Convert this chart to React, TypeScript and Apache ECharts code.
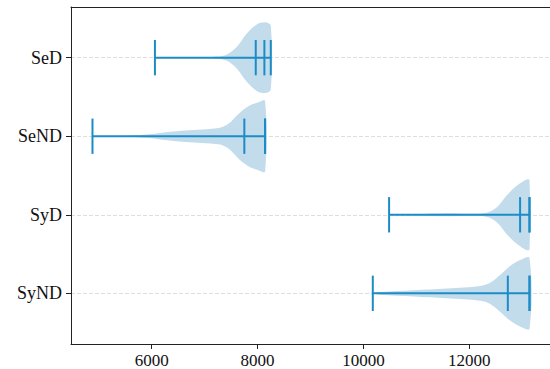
import React, { useEffect, useRef } from "react";
import * as echarts from "echarts";

// ---- data ----
const categories = ["SeD", "SeND", "SyD", "SyND"];
const mins = [6060, 4880, 10486, 10178];
const maxs = [8250, 8142, 13140, 13140];
const means = [7966, 7750, 12962, 12730];
const medians = [8129, 8142, 13140, 13140];
const xTicks = [6000, 8000, 10000, 12000];

// density profiles: sample values and relative half-widths (1 = widest)
const seDValues = [6060, 6800, 7230, 7420, 7610, 7800, 7985, 8140, 8250];
const seDWidths = [0, 0.01, 0.03, 0.09, 0.31, 0.69, 0.94, 1.0, 0.9];
const seNDValues = [4880, 5558, 6000, 6189, 6630, 7259, 7448, 7637, 7826, 8015, 8142];
const seNDWidths = [0, 0.015, 0.06, 0.1, 0.16, 0.23, 0.35, 0.63, 0.85, 0.96, 1.0];
const syDValues = [10486, 11000, 11577, 12000, 12333, 12522, 12711, 12836, 12962, 13089, 13140];
const syDWidths = [0, 0.02, 0.045, 0.03, 0.06, 0.21, 0.55, 0.74, 0.89, 1.0, 0.98];
const syNDValues = [10178, 10316, 10946, 11577, 12206, 12395, 12584, 12773, 12962, 13140];
const syNDWidths = [0, 0.04, 0.09, 0.14, 0.21, 0.3, 0.52, 0.77, 0.94, 1.0];

const profileValues = [seDValues, seNDValues, syDValues, syNDValues];
const profileWidths = [seDWidths, seNDWidths, syDWidths, syNDWidths];

const VIOLIN_HALF = 0.45; // half of violin width in category units
const BAR_HALF = 0.225;
const LINE_COLOR = "#1b8cc6";
const FILL_COLOR = "#c3dcec";
const FONT = "'Liberation Serif', 'Times New Roman', serif";

export default function App() {
  const ref = useRef<HTMLDivElement>(null);
  useEffect(() => {
    if (!ref.current) return;
    const chart = echarts.init(ref.current, undefined, { renderer: "svg" });
    const renderItem = (params: any, api: any) => {
      const pos = api.value(0);
      const i = pos - 1;
      const vals = profileValues[i];
      const ws = profileWidths[i];
      const top: number[][] = [];
      const bottom: number[][] = [];
      for (let k = 0; k < vals.length; k++) {
        top.push(api.coord([vals[k], pos - ws[k] * VIOLIN_HALF]));
        bottom.push(api.coord([vals[k], pos + ws[k] * VIOLIN_HALF]));
      }
      const poly = top.concat(bottom.reverse());
      const children: any[] = [
        {
          type: "polygon",
          shape: { points: poly, smooth: 0.35 },
          style: { fill: FILL_COLOR, stroke: "none" },
        },
      ];
      const a = api.coord([mins[i], pos]);
      const b = api.coord([maxs[i], pos]);
      children.push({
        type: "line",
        shape: { x1: a[0], y1: a[1], x2: b[0], y2: b[1] },
        style: { stroke: LINE_COLOR, lineWidth: 2 },
      });
      [mins[i], maxs[i], means[i], medians[i]].forEach((v) => {
        const p1 = api.coord([v, pos - BAR_HALF]);
        const p2 = api.coord([v, pos + BAR_HALF]);
        children.push({
          type: "line",
          shape: { x1: p1[0], y1: p1[1], x2: p2[0], y2: p2[1] },
          style: { stroke: LINE_COLOR, lineWidth: 2 },
        });
      });
      return { type: "group", children };
    };
    chart.setOption({
      animation: false,
      grid: { left: 71, right: -2, top: 7, bottom: 25, outerBoundsMode: "none" },
      xAxis: [
        {
          type: "value",
          min: 4474,
          max: 13565,
          axisLine: { show: true, lineStyle: { color: "#222", width: 1 } },
          axisTick: { show: true, customValues: xTicks, length: 5, lineStyle: { color: "#222" } },
          axisLabel: {
            customValues: xTicks,
            formatter: (v: number) => String(v),
            fontSize: 17,
            lineHeight: 14,
            fontFamily: FONT,
            color: "#111",
            margin: 9,
          },
          splitLine: { show: false },
        },
        {
          type: "value",
          position: "top",
          min: 4474,
          max: 13565,
          axisLine: { show: true, lineStyle: { color: "#222", width: 1 } },
          axisTick: { show: false },
          axisLabel: { show: false },
          splitLine: { show: false },
        },
      ],
      yAxis: {
        type: "value",
        inverse: true,
        min: 0.355,
        max: 4.645,
        axisLine: { show: true, lineStyle: { color: "#222", width: 1 } },
        axisTick: { show: true, customValues: [1, 2, 3, 4], length: 5, lineStyle: { color: "#222" } },
        axisLabel: {
          customValues: [1, 2, 3, 4],
          formatter: (v: number) => categories[Math.round(v) - 1] ?? "",
          fontSize: 18,
          fontFamily: FONT,
          color: "#111",
          margin: 9,
        },
        splitLine: { show: true, lineStyle: { type: [4, 2], color: "#dedede", width: 1 } },
      },
      series: [
        {
          type: "custom",
          renderItem,
          encode: { y: 0, x: [1, 2] },
          data: categories.map((c, i) => [i + 1, mins[i], maxs[i]]),
          clip: false,
        },
      ],
    });
    return () => chart.dispose();
  }, []);
  return (
    <div
      ref={ref}
      style={{ position: "absolute", left: 0, top: 0, width: 550, height: 369 }}
    />
  );
}
